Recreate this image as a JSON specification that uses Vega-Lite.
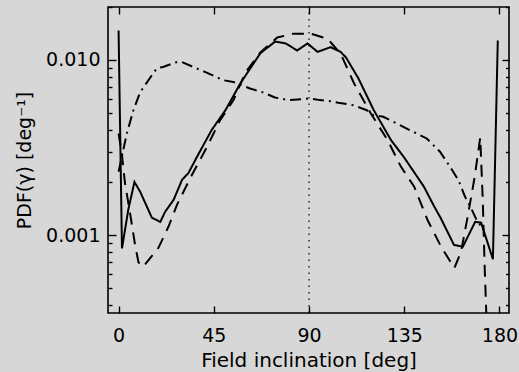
{
  "$schema": "https://vega.github.io/schema/vega-lite/v6.json",
  "width": 401,
  "height": 306,
  "autosize": {"type": "none"},
  "padding": {"left": 108, "top": 7, "right": 10, "bottom": 59},
  "background": "#d7d7d7",
  "config": {
    "view": {"stroke": "#000", "strokeWidth": 1.6},
    "font": "DejaVu Sans",
    "axis": {
      "domain": false, "grid": false,
      "tickColor": "#000", "tickWidth": 1.4,
      "labelColor": "#000", "titleColor": "#000",
      "labelFont": "DejaVu Sans", "titleFont": "DejaVu Sans",
      "labelFontSize": 19, "titleFontSize": 19, "titleFontWeight": "normal"
    }
  },
  "datasets": {
    "pdf": [
      {"series": "solid", "inclination": 0, "pdf": 0.0147},
      {"series": "solid", "inclination": 1.6, "pdf": 0.00084},
      {"series": "solid", "inclination": 4.6, "pdf": 0.0014},
      {"series": "solid", "inclination": 7.5, "pdf": 0.00201},
      {"series": "solid", "inclination": 10.2, "pdf": 0.00177},
      {"series": "solid", "inclination": 15.7, "pdf": 0.00126},
      {"series": "solid", "inclination": 19.7, "pdf": 0.00119},
      {"series": "solid", "inclination": 22, "pdf": 0.00136},
      {"series": "solid", "inclination": 26, "pdf": 0.00159},
      {"series": "solid", "inclination": 30, "pdf": 0.00207},
      {"series": "solid", "inclination": 33, "pdf": 0.00226},
      {"series": "solid", "inclination": 37, "pdf": 0.00279},
      {"series": "solid", "inclination": 44, "pdf": 0.00398},
      {"series": "solid", "inclination": 50.5, "pdf": 0.00516},
      {"series": "solid", "inclination": 57.6, "pdf": 0.00735},
      {"series": "solid", "inclination": 67, "pdf": 0.0109},
      {"series": "solid", "inclination": 74, "pdf": 0.0127},
      {"series": "solid", "inclination": 79, "pdf": 0.0124},
      {"series": "solid", "inclination": 84.4, "pdf": 0.0113},
      {"series": "solid", "inclination": 89.3, "pdf": 0.0124},
      {"series": "solid", "inclination": 94, "pdf": 0.0111},
      {"series": "solid", "inclination": 100.2, "pdf": 0.0118},
      {"series": "solid", "inclination": 104.9, "pdf": 0.0111},
      {"series": "solid", "inclination": 107.5, "pdf": 0.0103},
      {"series": "solid", "inclination": 113.3, "pdf": 0.00785},
      {"series": "solid", "inclination": 120.6, "pdf": 0.00516},
      {"series": "solid", "inclination": 128.7, "pdf": 0.00349},
      {"series": "solid", "inclination": 134.8, "pdf": 0.00279},
      {"series": "solid", "inclination": 140.5, "pdf": 0.00221},
      {"series": "solid", "inclination": 144.3, "pdf": 0.00189},
      {"series": "solid", "inclination": 149, "pdf": 0.00147},
      {"series": "solid", "inclination": 152.4, "pdf": 0.00124},
      {"series": "solid", "inclination": 158.5, "pdf": 0.00088},
      {"series": "solid", "inclination": 162.7, "pdf": 0.00086},
      {"series": "solid", "inclination": 168.5, "pdf": 0.00119},
      {"series": "solid", "inclination": 171.3, "pdf": 0.00118},
      {"series": "solid", "inclination": 176.9, "pdf": 0.00073},
      {"series": "solid", "inclination": 179.2, "pdf": 0.0129},
      {"series": "dashed", "inclination": 0, "pdf": 0.0038},
      {"series": "dashed", "inclination": 1.5, "pdf": 0.00294},
      {"series": "dashed", "inclination": 3, "pdf": 0.00199},
      {"series": "dashed", "inclination": 5.4, "pdf": 0.00134},
      {"series": "dashed", "inclination": 7.8, "pdf": 0.00088},
      {"series": "dashed", "inclination": 9.4, "pdf": 0.0007},
      {"series": "dashed", "inclination": 11.6, "pdf": 0.00066},
      {"series": "dashed", "inclination": 18.9, "pdf": 0.00085},
      {"series": "dashed", "inclination": 23.6, "pdf": 0.00112},
      {"series": "dashed", "inclination": 27.6, "pdf": 0.00149},
      {"series": "dashed", "inclination": 33.9, "pdf": 0.00212},
      {"series": "dashed", "inclination": 41, "pdf": 0.00306},
      {"series": "dashed", "inclination": 48, "pdf": 0.00453},
      {"series": "dashed", "inclination": 54.3, "pdf": 0.00589},
      {"series": "dashed", "inclination": 60, "pdf": 0.00849},
      {"series": "dashed", "inclination": 67, "pdf": 0.011},
      {"series": "dashed", "inclination": 75, "pdf": 0.0134},
      {"series": "dashed", "inclination": 82.7, "pdf": 0.0141},
      {"series": "dashed", "inclination": 90.8, "pdf": 0.0141},
      {"series": "dashed", "inclination": 98.7, "pdf": 0.0132},
      {"series": "dashed", "inclination": 105, "pdf": 0.0108},
      {"series": "dashed", "inclination": 111.3, "pdf": 0.00733},
      {"series": "dashed", "inclination": 119.2, "pdf": 0.00494},
      {"series": "dashed", "inclination": 127.1, "pdf": 0.00349},
      {"series": "dashed", "inclination": 133.4, "pdf": 0.00246},
      {"series": "dashed", "inclination": 139.7, "pdf": 0.00189},
      {"series": "dashed", "inclination": 146, "pdf": 0.00122},
      {"series": "dashed", "inclination": 152.4, "pdf": 0.00086},
      {"series": "dashed", "inclination": 158.7, "pdf": 0.00065},
      {"series": "dashed", "inclination": 161.8, "pdf": 0.0008},
      {"series": "dashed", "inclination": 165, "pdf": 0.00128},
      {"series": "dashed", "inclination": 168.2, "pdf": 0.00212},
      {"series": "dashed", "inclination": 170.9, "pdf": 0.0036},
      {"series": "dashed", "inclination": 172.1, "pdf": 0.00159},
      {"series": "dashed", "inclination": 173, "pdf": 0.00066},
      {"series": "dashed", "inclination": 174, "pdf": 0.0003},
      {"series": "dashdot", "inclination": 0, "pdf": 0.0023},
      {"series": "dashdot", "inclination": 3.9, "pdf": 0.0038},
      {"series": "dashdot", "inclination": 7, "pdf": 0.00516},
      {"series": "dashdot", "inclination": 10.2, "pdf": 0.00653},
      {"series": "dashdot", "inclination": 14.1, "pdf": 0.00765},
      {"series": "dashdot", "inclination": 18.1, "pdf": 0.00895},
      {"series": "dashdot", "inclination": 21, "pdf": 0.0091},
      {"series": "dashdot", "inclination": 27.2, "pdf": 0.00968},
      {"series": "dashdot", "inclination": 29.8, "pdf": 0.00972},
      {"series": "dashdot", "inclination": 35.3, "pdf": 0.0091},
      {"series": "dashdot", "inclination": 40.8, "pdf": 0.00853},
      {"series": "dashdot", "inclination": 49.5, "pdf": 0.00765},
      {"series": "dashdot", "inclination": 54.2, "pdf": 0.00748},
      {"series": "dashdot", "inclination": 62.1, "pdf": 0.00686},
      {"series": "dashdot", "inclination": 67.6, "pdf": 0.00656},
      {"series": "dashdot", "inclination": 73.9, "pdf": 0.0061},
      {"series": "dashdot", "inclination": 80.2, "pdf": 0.00589},
      {"series": "dashdot", "inclination": 86.5, "pdf": 0.00597},
      {"series": "dashdot", "inclination": 90.5, "pdf": 0.00602},
      {"series": "dashdot", "inclination": 95.2, "pdf": 0.00589},
      {"series": "dashdot", "inclination": 99.9, "pdf": 0.00581},
      {"series": "dashdot", "inclination": 103.8, "pdf": 0.00569},
      {"series": "dashdot", "inclination": 110.9, "pdf": 0.00551},
      {"series": "dashdot", "inclination": 117.3, "pdf": 0.00516},
      {"series": "dashdot", "inclination": 120.4, "pdf": 0.00484},
      {"series": "dashdot", "inclination": 125.1, "pdf": 0.00473},
      {"series": "dashdot", "inclination": 131.4, "pdf": 0.00434},
      {"series": "dashdot", "inclination": 137.7, "pdf": 0.00397},
      {"series": "dashdot", "inclination": 145.6, "pdf": 0.00356},
      {"series": "dashdot", "inclination": 151.9, "pdf": 0.00299},
      {"series": "dashdot", "inclination": 156.6, "pdf": 0.00246},
      {"series": "dashdot", "inclination": 160.6, "pdf": 0.00206},
      {"series": "dashdot", "inclination": 163.7, "pdf": 0.00166},
      {"series": "dashdot", "inclination": 166.9, "pdf": 0.0014},
      {"series": "dashdot", "inclination": 169.5, "pdf": 0.0012},
      {"series": "dashdot", "inclination": 172, "pdf": 0.0011}
    ],
    "marker": [
      {"inclination": 90, "low": 0.00036, "high": 0.02}
    ]
  },
  "layer": [
    {
      "data": {"name": "pdf"},
      "mark": {"type": "line", "clip": true, "strokeWidth": 2, "color": "#000", "strokeCap": "butt"},
      "encoding": {
        "x": {
          "field": "inclination", "type": "quantitative",
          "scale": {"domain": [-5, 184.5], "nice": false, "zero": false},
          "axis": {"orient": "bottom", "values": [0, 45, 90, 135, 180], "tickSize": -7, "labelPadding": 20, "title": "Field inclination [deg]", "titleFontSize": 20, "titlePadding": 5}
        },
        "y": {
          "field": "pdf", "type": "quantitative",
          "scale": {"type": "log", "domain": [0.00036, 0.02], "nice": false},
          "axis": {
            "orient": "left",
            "values": [0.0004, 0.0005, 0.0006, 0.0007, 0.0008, 0.0009, 0.001, 0.002, 0.003, 0.004, 0.005, 0.006, 0.007, 0.008, 0.009, 0.01, 0.02],
            "tickSize": {"expr": "datum.value == 0.01 || datum.value == 0.001 ? -8 : -4"},
            "labelExpr": "datum.value == 0.01 ? '0.010' : (datum.value == 0.001 ? '0.001' : '')",
            "labelPadding": 16,
            "title": "PDF(γ) [deg⁻¹]",
            "titlePadding": 11
          }
        },
        "strokeDash": {
          "field": "series", "type": "nominal",
          "scale": {"domain": ["solid", "dashed", "dashdot"], "range": [[1, 0], [12, 8], [11, 5, 2, 5]]},
          "legend": null
        }
      }
    },
    {
      "data": {"name": "marker"},
      "mark": {"type": "rule", "strokeDash": [1.5, 5], "strokeWidth": 1.2, "color": "#000"},
      "encoding": {
        "x": {
          "field": "inclination", "type": "quantitative",
          "axis": {"orient": "top", "values": [0, 45, 90, 135, 180], "tickSize": -7, "labels": false, "title": null}
        },
        "y": {
          "field": "low", "type": "quantitative",
          "axis": {
            "orient": "right",
            "values": [0.0004, 0.0005, 0.0006, 0.0007, 0.0008, 0.0009, 0.001, 0.002, 0.003, 0.004, 0.005, 0.006, 0.007, 0.008, 0.009, 0.01, 0.02],
            "tickSize": {"expr": "datum.value == 0.01 || datum.value == 0.001 ? -7 : -3.5"},
            "labels": false, "title": null
          }
        },
        "y2": {"field": "high"}
      }
    }
  ],
  "resolve": {"axis": {"x": "independent", "y": "independent"}}
}
